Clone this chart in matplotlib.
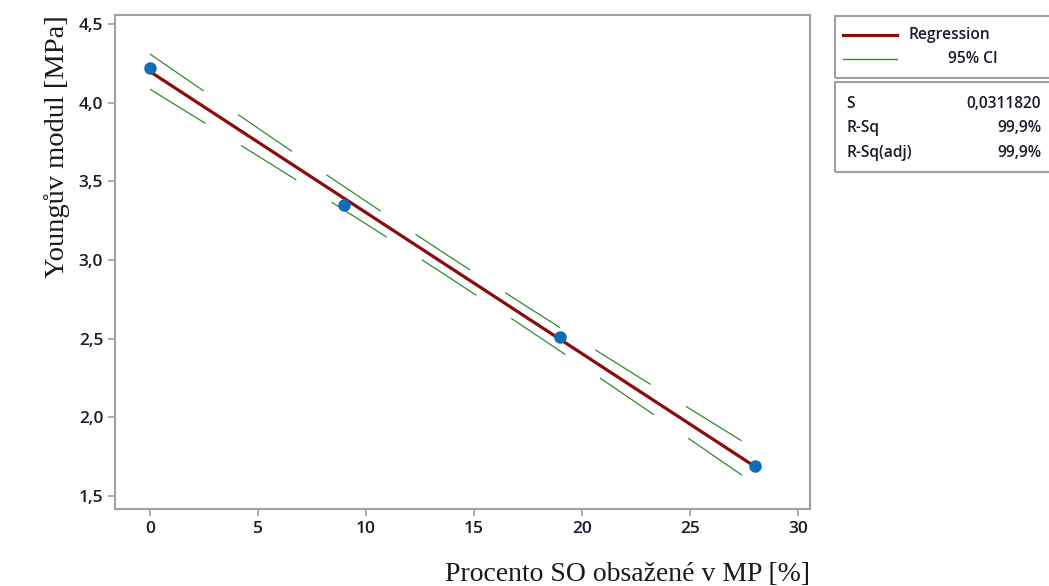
import numpy as np
import matplotlib
matplotlib.use("Agg")
import matplotlib.pyplot as plt
from matplotlib.patches import Rectangle
from matplotlib.lines import Line2D

# measured points
so_percent = [0, 9, 19, 28]
young_mod = [4.22, 3.35, 2.51, 1.69]

# values shown in the stats box
stat_names = ["S", "R-Sq", "R-Sq(adj)"]
stat_values = ["0,0311820", "99,9%", "99,9%"]
s_value = 0.0311820
t_crit = 4.303  # t(0.975, df=2)

x_ticks = [0, 5, 10, 15, 20, 25, 30]
y_ticks = [1.5, 2.0, 2.5, 3.0, 3.5, 4.0, 4.5]

plt.rcParams["lines.scale_dashes"] = False

x = np.array(so_percent, dtype=float)
y = np.array(young_mod, dtype=float)

# fitted line + 95% confidence interval for the mean
slope, intercept = np.polyfit(x, y, 1)
xs = np.linspace(x.min(), x.max(), 200)
fit = intercept + slope * xs
sxx = np.sum((x - x.mean()) ** 2)
half = t_crit * s_value * np.sqrt(1 / len(x) + (xs - x.mean()) ** 2 / sxx)

fig = plt.figure(figsize=(10.49, 5.86), dpi=100)
ax = fig.add_axes([0.1096, 0.1314, 0.6626, 0.8430])

grey = "#a0a0a0"
ci_green = "#2e8b2e"
reg_red = "#8b0a0a"
txt = "#1a1a2a"

ax.plot(xs, fit + half, color=ci_green, lw=0.9, linestyle=(0, (47, 30)))
ax.plot(xs, fit - half, color=ci_green, lw=0.9, linestyle=(0, (47, 30)))
ax.plot(xs, fit, color=reg_red, lw=2.3, solid_capstyle="butt")
ax.plot(x, y, "o", color="#0f6cb6", markersize=8, zorder=5)

ax.set_xlim(-1.62, 30.56)
ax.set_ylim(1.417, 4.557)
ax.set_xticks(x_ticks)
ax.set_yticks(y_ticks)
ax.set_xticklabels([str(v) for v in x_ticks])
ax.set_yticklabels([f"{v:.1f}".replace(".", ",") for v in y_ticks])

for sp in ax.spines.values():
    sp.set_color(grey)
    sp.set_linewidth(1.5)
ax.tick_params(colors=grey, length=5, width=1.2, labelcolor=txt,
               labelsize=12.5)
for lab in ax.get_xticklabels() + ax.get_yticklabels():
    lab.set_family("Open Sans")
    lab.set_weight("semibold")

ax.set_xlabel("Procento SO obsažené v MP [%]", family="Liberation Serif",
              fontsize=20, loc="right", labelpad=18, color="#1a1a1a")
ax.set_ylabel("Youngův modul [MPa]", family="Liberation Serif",
              fontsize=20.5, loc="top", labelpad=6, color="#1a1a1a")


# legend + stats boxes drawn in figure pixels
def px(xp, yp):
    return xp / 1049, 1 - yp / 586


def box(x0, y0, x1, y1):
    (fx0, fy0), (fx1, fy1) = px(x0, y1), px(x1, y0)
    fig.patches.append(Rectangle((fx0, fy0), fx1 - fx0, fy1 - fy0,
                                 transform=fig.transFigure, fill=False,
                                 edgecolor=grey, lw=1.5))


box(835, 16, 1060, 78)
box(835, 82, 1060, 172)

for yy, col, lw in [(35, reg_red, 2.3), (59, ci_green, 1.0)]:
    (a, b), (c, d) = px(843, yy), px(897, yy)
    fig.lines.append(Line2D([a, c], [b, d], transform=fig.transFigure,
                            color=col, lw=lw))

lk = dict(family="Open Sans", weight="semibold", fontsize=11.2,
          color=txt, va="center")
fig.text(*px(909, 35), "Regression", ha="left", **lk)
fig.text(*px(998, 59), "95% CI", ha="right", **lk)

for i, (name, val) in enumerate(zip(stat_names, stat_values)):
    yy = 104 + i * 24.5
    fig.text(*px(846, yy), name, ha="left", **lk)
    fig.text(*px(1041, yy), val, ha="right", **lk)

fig.savefig("out.png", dpi=100)
